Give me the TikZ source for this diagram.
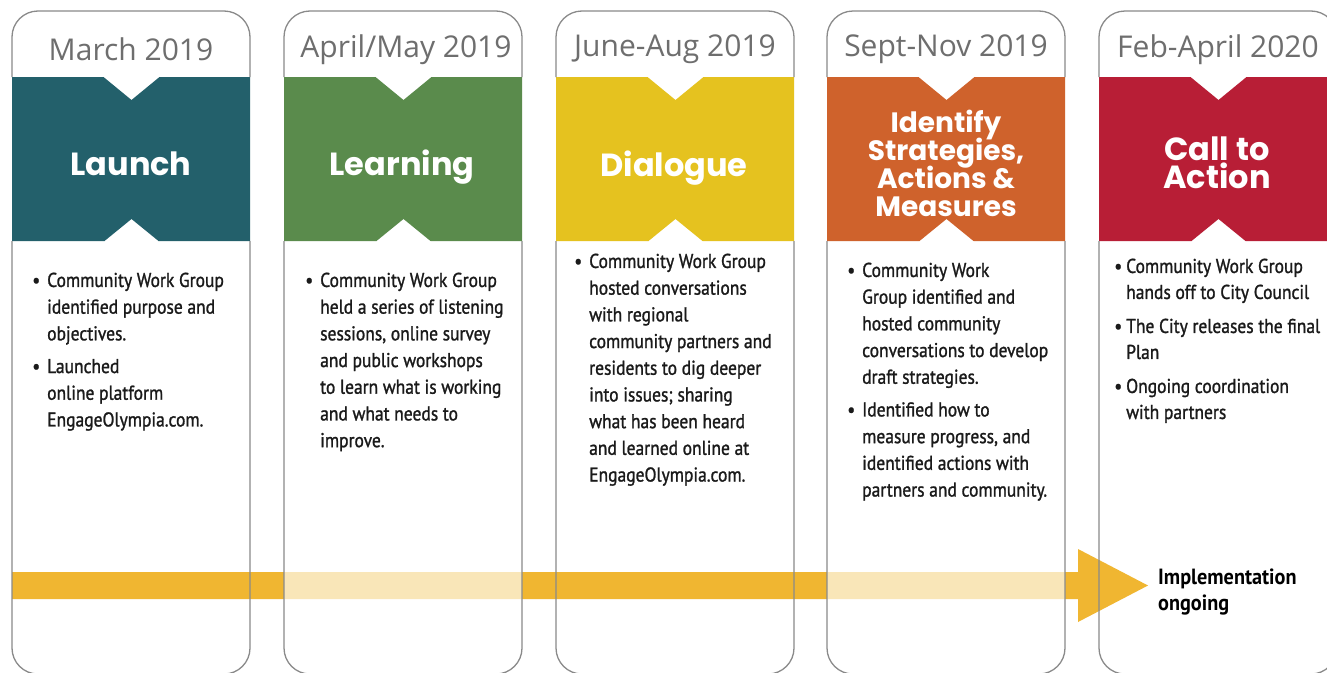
\documentclass[tikz,border=0pt]{standalone}
\usepackage{fontspec}
\setmainfont{PT Sans}
\newfontfamily\bodyfont{PT Sans}[FakeStretch=0.875,FakeBold=1.2]
\newfontfamily\endfont{PT Sans}[FakeStretch=0.92]
\newfontfamily\datefont{Open Sans}
\newfontfamily\titlefont{Poppins}
\definecolor{panelgrey}{HTML}{8A8A8A}
\definecolor{dategrey}{HTML}{6E6E6E}
\definecolor{bodyblack}{HTML}{1A1A1A}
\definecolor{barorange}{HTML}{F0B631}
\definecolor{cteal}{HTML}{23606B}
\definecolor{cgreen}{HTML}{5A8B4C}
\definecolor{cyellow}{HTML}{E5C21F}
\definecolor{corange}{HTML}{CF622C}
\definecolor{cred}{HTML}{B81E36}
\newcommand{\bul}{\makebox[0pt][r]{\textbullet\hspace{7pt}}}
\newcommand{\bulb}{\makebox[0pt][r]{\textbullet\hspace{4pt}}}
\newcommand{\tightls}{\lineskiplimit=-100pt\relax}
\newcommand{\bigtitlefont}{\titlefont\bfseries\fontsize{32}{28}\selectfont\tightls}
\newcommand{\smalltitlefont}{\titlefont\bfseries\fontsize{28}{28}\selectfont\tightls}
\tikzset{
  panelborder/.style={draw=panelgrey, line width=1.3pt, rounded corners=26pt},
  veil/.style={fill=white, fill opacity=0.66, rounded corners=26pt},
  datelbl/.style={font=\datefont\fontsize{30}{32}\selectfont, text=dategrey, inner sep=0pt},
  titlelbl/.style={font=\bigtitlefont, text=white, align=center, inner sep=0pt},
  smalltitle/.style={font=\smalltitlefont},
  bodytext/.style={font=\bodyfont\fontsize{20}{26.7}\selectfont, align=left, anchor=north west, inner sep=0pt, text=bodyblack},
  endlbl/.style={font=\endfont\bfseries\fontsize{22}{26}\selectfont, align=left, anchor=north west, inner sep=0pt, text=black},
  arrowbody/.style={fill=barorange, draw=none}
}
\newcommand{\band}[2]{% #1 = left x, #2 = colour
  \fill[#2] (#1,77) -- (#1+91.5,77) -- (#1+119.5,100) -- (#1+147.5,77) -- (#1+238,77)
    -- (#1+238,241) -- (#1+146.5,241) -- (#1+119.5,219) -- (#1+92.5,241) -- (#1,241) -- cycle;}
\begin{document}
\begin{tikzpicture}[x=1pt,y=-1pt]
\useasboundingbox (0,0) rectangle (1327,672);
\fill[white] (0,0) rectangle (1327,672);
% timeline arrow
\coordinate (astart) at (12,585.5);
\coordinate (aend) at (1148,585.5);
\fill[arrowbody] (12,572) -- (1078,572) -- (1078,549) -- (aend) -- (1078,622) -- (1078,599) -- (12,599) -- cycle;
% translucent panels
\fill[veil] (284,11) rectangle (522,674);
\fill[veil] (827,11) rectangle (1065,674);
% bands
\band{12}{cteal}
\band{284}{cgreen}
\band{556}{cyellow}
\band{827}{corange}
\band{1099}{cred}
% panel borders
\foreach \x in {12,284,556,827,1099}{
  \draw[panelborder] (\x,77) -- (\x,11) -- (\x+238,11) -- (\x+238,77);
  \draw[panelborder] (\x,241) -- (\x,674) -- (\x+238,674) -- (\x+238,241);
}
% dates
\node[datelbl] (d1) at (131,49.5) {March 2019};
\node[datelbl] (d2) at (406,49.5) {April/May 2019};
\node[datelbl] (d3) at (675,49.5) {June-Aug 2019};
\node[datelbl] (d4) at (946,49.5) {Sept-Nov 2019};
\node[datelbl] (d5) at (1218,49.5) {Feb-April 2020};
% titles
\node[titlelbl, anchor=base] (t1) at (131,175) {Launch};
\node[titlelbl, anchor=base] (t2) at (402,175) {Learning};
\node[titlelbl, anchor=base] (t3) at (674,176) {Dialogue};
\node[titlelbl, smalltitle] (t4) at (946,163) {Identify\\Strategies,\\Actions \&\\Measures};
\node[titlelbl, anchor=base] (t5a) at (1217,160) {Call to};
\node[titlelbl, anchor=base] (t5b) at (1217,188) {Action};
% body texts
\node[bodytext] (b1) at (47,272.5) {\bul Community Work Group\\ identified purpose and\\ objectives.\\[6pt] \bul Launched\\ online platform\\ EngageOlympia.com.};
\node[bodytext] (b2) at (320,272.5) {\bul Community Work Group\\ held a series of listening\\ sessions, online survey\\ and public workshops\\ to learn what is working\\ and what needs to\\ improve.};
\node[bodytext] (b3) at (589,253.5) {\bul Community Work Group\\ hosted conversations\\ with regional\\ community partners and\\ residents to dig deeper\\ into issues; sharing\\ what has been heard\\ and learned online at\\ EngageOlympia.com.};
\node[bodytext] (b4) at (862,262.5) {\bul Community Work\\ Group identified and\\ hosted community\\ conversations to develop\\ draft strategies.\\[6pt] \bul Identified how to\\ measure progress, and\\ identified actions with\\ partners and community.};
\node[bodytext, font=\bodyfont\fontsize{20}{26}\selectfont] (b5) at (1126,258.5) {\bulb Community Work Group\\ hands off to City Council\\[8pt] \bulb The City releases the final\\ Plan\\[8pt] \bulb Ongoing coordination\\ with partners};
% end label
\node[endlbl] (impl) at (1158,568.5) {Implementation\\ ongoing};
\end{tikzpicture}
\end{document}
